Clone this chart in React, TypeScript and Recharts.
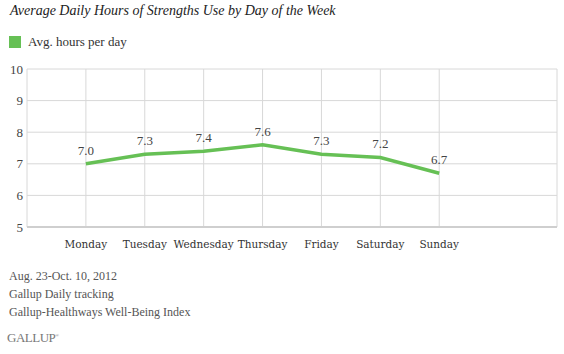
import { LineChart, Line, XAxis, YAxis, CartesianGrid, LabelList } from 'recharts';

const days = ['Monday', 'Tuesday', 'Wednesday', 'Thursday', 'Friday', 'Saturday', 'Sunday'];
const hours = [7.0, 7.3, 7.4, 7.6, 7.3, 7.2, 6.7];
const yTicks = [5, 6, 7, 8, 9, 10];
const notes = ['Aug. 23-Oct. 10, 2012', 'Gallup Daily tracking', 'Gallup-Healthways Well-Being Index'];

const data = days.map((day, i) => ({ pos: i + 1, day, hours: hours[i] }));

const GREEN = '#66c055';
const serif = '"Liberation Serif", "DejaVu Serif", serif';

export default function App() {
  return (
    <div style={{ position: 'absolute', left: 0, top: 0, width: 564, height: 354, background: '#fff', fontFamily: serif }}>
      <div style={{ position: 'absolute', left: 10, top: 3, fontSize: 14, fontStyle: 'italic', color: '#222' }}>
        Average Daily Hours of Strengths Use by Day of the Week
      </div>
      <div style={{ position: 'absolute', left: 9, top: 36, width: 12, height: 12, background: GREEN }} />
      <div style={{ position: 'absolute', left: 28, top: 34, fontSize: 13, color: '#333' }}>Avg. hours per day</div>

      <div style={{ position: 'absolute', left: 0, top: 0 }}>
        <LineChart width={564} height={260} data={data} margin={{ top: 69, right: 7, bottom: 3, left: 0 }}>
          <CartesianGrid stroke="#d8d8d8" strokeWidth={1} />
          <XAxis
            dataKey="pos"
            type="number"
            domain={[0, 9]}
            ticks={[1, 2, 3, 4, 5, 6, 7]}
            tickFormatter={(v: number) => days[v - 1]}
            axisLine={{ stroke: '#cfcfcf', strokeWidth: 2 }}
            tickLine={false}
            tickMargin={8}
            interval={0}
            tick={{ fontFamily: '"DejaVu Serif", serif', fontSize: 10.5, fill: '#333' }}
          />
          <YAxis
            type="number"
            domain={[5, 10]}
            ticks={yTicks}
            width={27}
            axisLine={false}
            tickLine={false}
            tickMargin={-2}
            tick={{ fontFamily: serif, fontSize: 13, fill: '#444' }}
          />
          <Line
            dataKey="hours"
            stroke={GREEN}
            strokeWidth={3.5}
            dot={false}
            activeDot={false}
            isAnimationActive={false}
          >
            <LabelList
              dataKey="hours"
              position="top"
              offset={9}
              formatter={(v: number) => v.toFixed(1)}
              style={{ fontFamily: serif, fontSize: 13, fill: '#444' }}
            />
          </Line>
        </LineChart>
      </div>

      {notes.map((n, i) => (
        <div key={n} style={{ position: 'absolute', left: 9, top: 269 + i * 18, fontSize: 12, color: '#555' }}>
          {n}
        </div>
      ))}
      <div style={{ position: 'absolute', left: 7, top: 330, fontSize: 13, color: '#777', letterSpacing: -0.5 }}>
        GALLUP<sup style={{ fontSize: 5 }}>®</sup>
      </div>
    </div>
  );
}
